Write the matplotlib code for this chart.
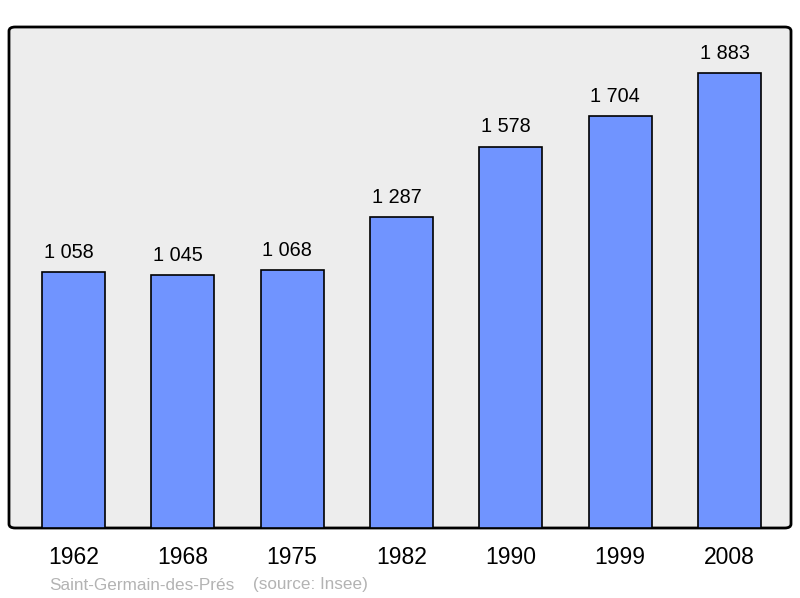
import matplotlib.pyplot as plt
from matplotlib.patches import FancyBboxPatch

# population data
years = ['1962', '1968', '1975', '1982', '1990', '1999', '2008']
population = [1058, 1045, 1068, 1287, 1578, 1704, 1883]
labels = ['1 058', '1 045', '1 068', '1 287', '1 578', '1 704', '1 883']

plt.rcParams['font.family'] = ['Liberation Sans', 'DejaVu Sans']

fig = plt.figure(figsize=(8, 5.98), dpi=100)
ax = fig.add_axes([9/800, 70/598, 782/800, 501/598])
ax.set_facecolor('none')
for s in ax.spines.values():
    s.set_visible(False)

# panel with rounded corners
panel = FancyBboxPatch((0, 0), 1, 1,
                       boxstyle='round,pad=0,rounding_size=0.008',
                       transform=ax.transAxes, facecolor='#ededed',
                       edgecolor='black', linewidth=2, zorder=0, clip_on=False)
ax.add_patch(panel)

x = list(range(len(years)))
ax.bar(x, population, width=0.576, color='#7094ff', edgecolor='black',
       linewidth=1.2, zorder=2)
for xi, v, lab in zip(x, population, labels):
    ax.text(xi - 0.045, v + 82, lab, ha='center', va='center', fontsize=14.3, zorder=3)

ax.set_xlim(-0.59, 6.563)
ax.set_ylim(0, 2073)
ax.set_yticks([])
ax.set_xticks(x)
ax.set_xticklabels(years, fontsize=16.5)
ax.tick_params(axis='x', length=0, pad=13)

fig.text(49/800, 1 - 585/598, 'Saint-Germain-des-Prés', color='#b3b3b3',
         fontsize=12.3, va='center')
fig.text(253/800, 1 - 585/598, '(source: Insee)', color='#b3b3b3',
         fontsize=12.3, va='center')

fig.savefig('out.png', dpi=100)
